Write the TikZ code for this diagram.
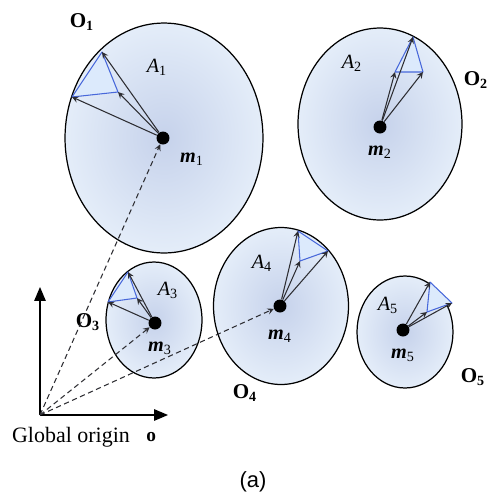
\documentclass[tikz,border=0pt]{standalone}
\usepackage{fontspec}
\setmainfont{Liberation Serif}
\setsansfont{Liberation Sans}
\usepackage{tikz}
\usetikzlibrary{shapes.geometric, arrows, positioning}
\definecolor{blobfill}{RGB}{228,237,249}
\definecolor{blobcore}{RGB}{198,210,235}
\definecolor{trifill}{RGB}{220,234,252}
\definecolor{triedge}{RGB}{72,104,218}
\definecolor{vecgray}{RGB}{45,45,50}

\begin{document}
\begin{tikzpicture}[
    x=0.02cm, y=-0.02cm,
    blob/.style={ellipse, draw, line width=0.7pt, inner sep=0pt, inner color=blobcore, outer color=blobfill},
    mass/.style={circle, fill=black, inner sep=0pt, minimum size=0.26cm},
    tri/.style={fill=trifill, draw=triedge, semithick, line join=round},
    vec/.style={->, >=stealth, vecgray, semithick},
    posvec/.style={->, >=stealth, densely dashed, vecgray, semithick},
    axis/.style={->, >=triangle 45, thick},
    olabel/.style={font=\fontsize{12}{13}\selectfont\bfseries},
    alabel/.style={font=\fontsize{11.5}{13}\selectfont\itshape},
    mlabel/.style={font=\fontsize{11.5}{13}\selectfont\bfseries\itshape}
]
    \useasboundingbox (0,0) rectangle (490,498);

    % bodies
    \node[blob, minimum width=3.96cm, minimum height=4.6cm] (e1) at (164,138) {};
    \node[blob, minimum width=3.28cm, minimum height=3.84cm] (e2) at (380,124) {};
    \node[blob, minimum width=1.92cm, minimum height=2.32cm] (e3) at (154,320) {};
    \node[blob, minimum width=2.7cm, minimum height=3.14cm] (e4) at (281,306) {};
    \node[blob, minimum width=1.92cm, minimum height=2.24cm] (e5) at (405,332) {};

    % surface patches
    \coordinate (t1a) at (102,52);  \coordinate (t1b) at (72,97);   \coordinate (t1c) at (118,92);
    \coordinate (t2a) at (413,37);  \coordinate (t2b) at (395,72);  \coordinate (t2c) at (423,72);
    \coordinate (t3a) at (128,272); \coordinate (t3b) at (108,302); \coordinate (t3c) at (137,298);
    \coordinate (t4a) at (298,231); \coordinate (t4b) at (328,251); \coordinate (t4c) at (300,261);
    \coordinate (t5a) at (430,282); \coordinate (t5b) at (452,303); \coordinate (t5c) at (427,312);
    \draw[tri] (t1a) -- (t1b) -- (t1c) -- cycle;
    \draw[tri] (t2a) -- (t2b) -- (t2c) -- cycle;
    \draw[tri] (t3a) -- (t3b) -- (t3c) -- cycle;
    \draw[tri] (t4a) -- (t4b) -- (t4c) -- cycle;
    \draw[tri] (t5a) -- (t5b) -- (t5c) -- cycle;

    % mass centres
    \node[mass] (m1) at (163,138) {};
    \node[mass] (m2) at (380,127) {};
    \node[mass] (m3) at (155,323) {};
    \node[mass] (m4) at (280,306) {};
    \node[mass] (m5) at (403,330) {};

    \node[mlabel, below right=0.08cm and 0.12cm of m1] (lm1) {m\textsubscript{\normalfont 1}};
    \node[mlabel, below=0.12cm of m2] (lm2) {m\textsubscript{\normalfont 2}};
    \node[mlabel, below=0.12cm of m3, xshift=0.1cm] (lm3) {m\textsubscript{\normalfont 3}};
    \node[mlabel, below=0.22cm of m4] (lm4) {m\textsubscript{\normalfont 4}};
    \node[mlabel, below=0.12cm of m5] (lm5) {m\textsubscript{\normalfont 5}};

    \node[alabel] (la1) at (157,67)  {A\textsubscript{\upshape 1}};
    \node[alabel] (la2) at (352,63)  {A\textsubscript{\upshape 2}};
    \node[alabel] (la3) at (168,290) {A\textsubscript{\upshape 3}};
    \node[alabel] (la4) at (262,263) {A\textsubscript{\upshape 4}};
    \node[alabel] (la5) at (388,305) {A\textsubscript{\upshape 5}};

    \node[olabel] (lo1) at (82,22)  {O\textsubscript{1}};
    \node[olabel] (lo2) at (476,80) {O\textsubscript{2}};
    \node[olabel] (lo3) at (88,322) {O\textsubscript{3}};
    \node[olabel] (lo4) at (245,393) {O\textsubscript{4}};
    \node[olabel] (lo5) at (473,377) {O\textsubscript{5}};

    % patch vectors
    \draw[vec] (m1) -- (t1a);
    \draw[vec] (m1) -- (t1b);
    \draw[vec] (m1) -- (t1c);
    \draw[vec] (m2) -- (t2a);
    \draw[vec] (m2) -- (t2b);
    \draw[vec] (m2) -- (t2c);
    \draw[vec] (m3) -- (t3a);
    \draw[vec] (m3) -- (t3b);
    \draw[vec] (m3) -- (t3c);
    \draw[vec] (m4) -- (t4a);
    \draw[vec] (m4) -- (t4b);
    \draw[vec] (m4) -- (t4c);
    \draw[vec] (m5) -- (t5a);
    \draw[vec] (m5) -- (t5b);
    \draw[vec] (m5) -- (t5c);

    % global frame
    \coordinate (orig) at (40,415);
    \coordinate (yend) at (40,287);
    \coordinate (xend) at (168,415);
    \draw[axis] (orig) -- (yend);
    \draw[axis] (orig) -- (xend);
    \node[font=\fontsize{12.5}{14}\selectfont] (lorig) at (71,437) {Global origin};
    \node[font=\fontsize{11}{13}\selectfont\bfseries, right=0.08cm of lorig] (lo) {o};

    \draw[posvec] (orig) -- (m1);
    \draw[posvec] (orig) -- (m3);
    \draw[posvec] (orig) -- (m4);

    \node[font=\sffamily\fontsize{12.5}{14}\selectfont] (cap) at (253,482) {(a)};
\end{tikzpicture}
\end{document}
